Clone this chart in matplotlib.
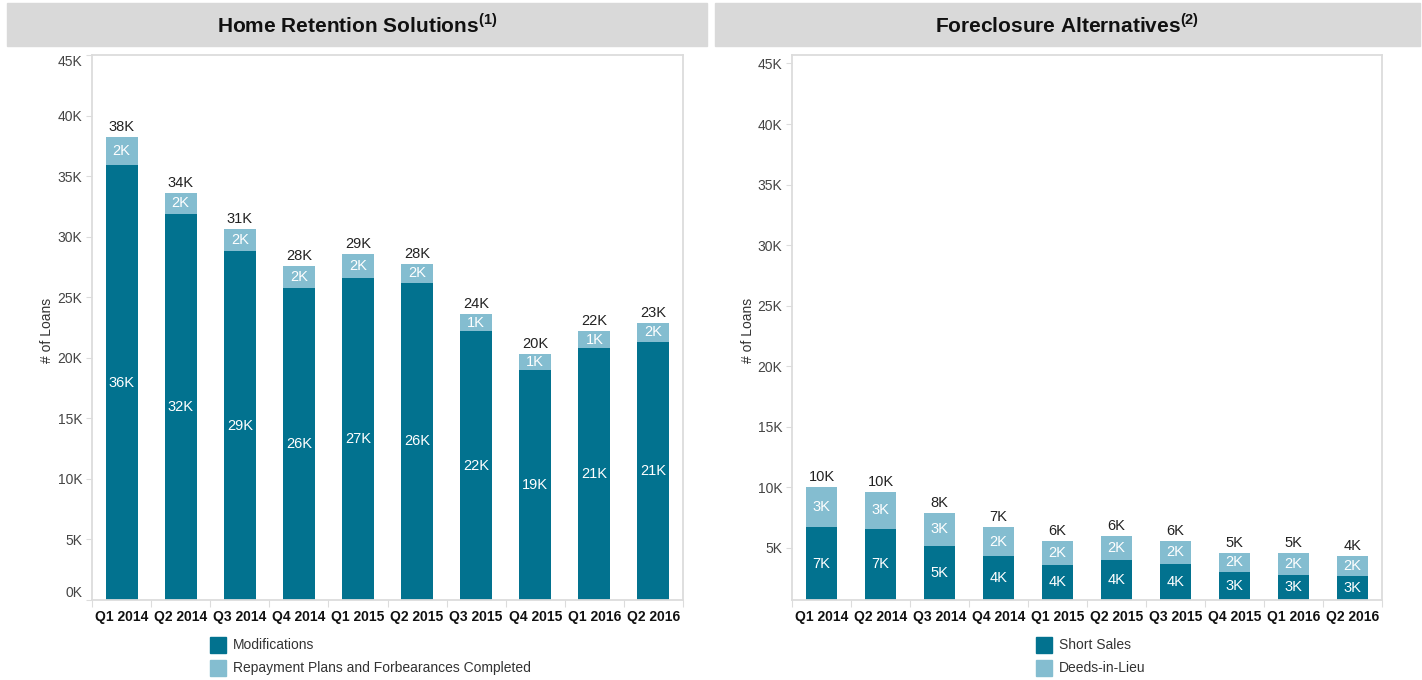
import matplotlib
matplotlib.use("Agg")
import matplotlib.pyplot as plt
import numpy as np
from matplotlib.patches import Rectangle
from matplotlib.ticker import FuncFormatter, FixedLocator

plt.rcParams['font.family'] = ['Liberation Sans', 'DejaVu Sans']
plt.rcParams['mathtext.fontset'] = 'custom'
plt.rcParams['mathtext.rm'] = 'Liberation Sans'
plt.rcParams['mathtext.bf'] = 'Liberation Sans:bold'

# loan counts per quarter
quarters = ['Q1 2014', 'Q2 2014', 'Q3 2014', 'Q4 2014', 'Q1 2015',
            'Q2 2015', 'Q3 2015', 'Q4 2015', 'Q1 2016', 'Q2 2016']
modifications = [35900, 31900, 28800, 25800, 26600, 26200, 22200, 19000, 20800, 21300]
repayment_plans = [2300, 1700, 1800, 1750, 2000, 1550, 1400, 1300, 1400, 1600]
short_sales = [6700, 6600, 5200, 4300, 3600, 4000, 3700, 3000, 2800, 2700]
deeds_in_lieu = [3300, 3000, 2700, 2400, 2000, 2000, 1900, 1600, 1800, 1600]

DARK = '#02728f'
LIGHT = '#84bdd0'
FRAME = '#dcdcdc'
W, H = 1422, 680

fig = plt.figure(figsize=(W / 100, H / 100), dpi=100)


def px(x0, y0, w, h):
    # pixel box (top-left origin) -> figure fraction
    return [x0 / W, 1 - (y0 + h) / H, w / W, h / H]


def kfmt(v, pos=None):
    return f"{v / 1000:.0f}K"


def draw_panel(ax, bottom_vals, top_vals, ylim, yticks):
    x = np.arange(len(quarters))
    ax.bar(x, bottom_vals, width=0.54, color=DARK, edgecolor='none', zorder=2)
    ax.bar(x, top_vals, width=0.54, bottom=bottom_vals, color=LIGHT,
           edgecolor='none', zorder=2)
    ax.set_xlim(-0.5, len(quarters) - 0.5)
    ax.set_ylim(*ylim)

    for i, (b, t) in enumerate(zip(bottom_vals, top_vals)):
        lo = max(b / 2, ylim[0] + (b - ylim[0]) / 2)
        ax.text(i, lo, kfmt(b), ha='center', va='center', color='white',
                fontsize=10.5, zorder=3)
        ax.text(i, b + t / 2, kfmt(t), ha='center', va='center', color='white',
                fontsize=10.5, zorder=3)
        ax.text(i, b + t + 250, kfmt(b + t), ha='center', va='bottom',
                color='#222222', fontsize=10.5, zorder=3)

    ax.yaxis.set_major_locator(FixedLocator(yticks))
    ax.yaxis.set_major_formatter(FuncFormatter(kfmt))
    ax.tick_params(axis='y', length=4, width=0.8, color=FRAME,
                   labelsize=10, labelcolor='#444444', pad=3)

    ax.set_xticks(x)
    ax.set_xticklabels(quarters, fontsize=10, fontweight='bold', color='#111111')
    ax.set_xticks(np.arange(-0.5, len(quarters)), minor=True)
    ax.tick_params(axis='x', which='major', length=0, pad=7)
    ax.tick_params(axis='x', which='minor', length=5, width=0.8, color=FRAME)

    for s in ax.spines.values():
        s.set_color(FRAME)
        s.set_linewidth(1.3)


# left panel
ax1 = fig.add_axes(px(92, 55, 591, 545))
draw_panel(ax1, modifications, repayment_plans, (0, 45000), range(0, 45001, 5000))
labels = ax1.get_yticklabels()
labels[0].set_va('bottom')
labels[-1].set_va('top')

# right panel
ax2 = fig.add_axes(px(792, 55, 590, 545))
draw_panel(ax2, short_sales, deeds_in_lieu, (700, 45700), range(5000, 45001, 5000))

# header bands
for x0, w, title in [(7, 700, r'Home Retention Solutions$^{\mathbf{(1)}}$'),
                     (715, 705, r'Foreclosure Alternatives$^{\mathbf{(2)}}$')]:
    fig.patches.append(Rectangle((x0 / W, 1 - 46 / H), w / W, 43 / H,
                                 transform=fig.transFigure, color='#d9d9d9',
                                 zorder=0))
    fig.text((x0 + w / 2) / W, 1 - 25 / H, title, ha='center', va='center',
             fontsize=15, fontweight='bold', color='#111111')

# axis titles
fig.text(47 / W, 1 - 330 / H, '# of Loans', rotation=90, ha='center',
         va='center', fontsize=10, color='#333333')
fig.text(748 / W, 1 - 330 / H, '# of Loans', rotation=90, ha='center',
         va='center', fontsize=10, color='#333333')

# legends
for x0, names in [(210, ['Modifications', 'Repayment Plans and Forbearances Completed']),
                  (1036, ['Short Sales', 'Deeds-in-Lieu'])]:
    for row, (name, col) in enumerate(zip(names, [DARK, LIGHT])):
        yc = 645 + row * 23
        fig.patches.append(Rectangle((x0 / W, 1 - (yc + 8) / H), 16 / W, 16 / H,
                                     transform=fig.transFigure, color=col))
        fig.text((x0 + 23) / W, 1 - yc / H, name, ha='left', va='center',
                 fontsize=10, color='#333333')

fig.savefig('out.png', dpi=100)
